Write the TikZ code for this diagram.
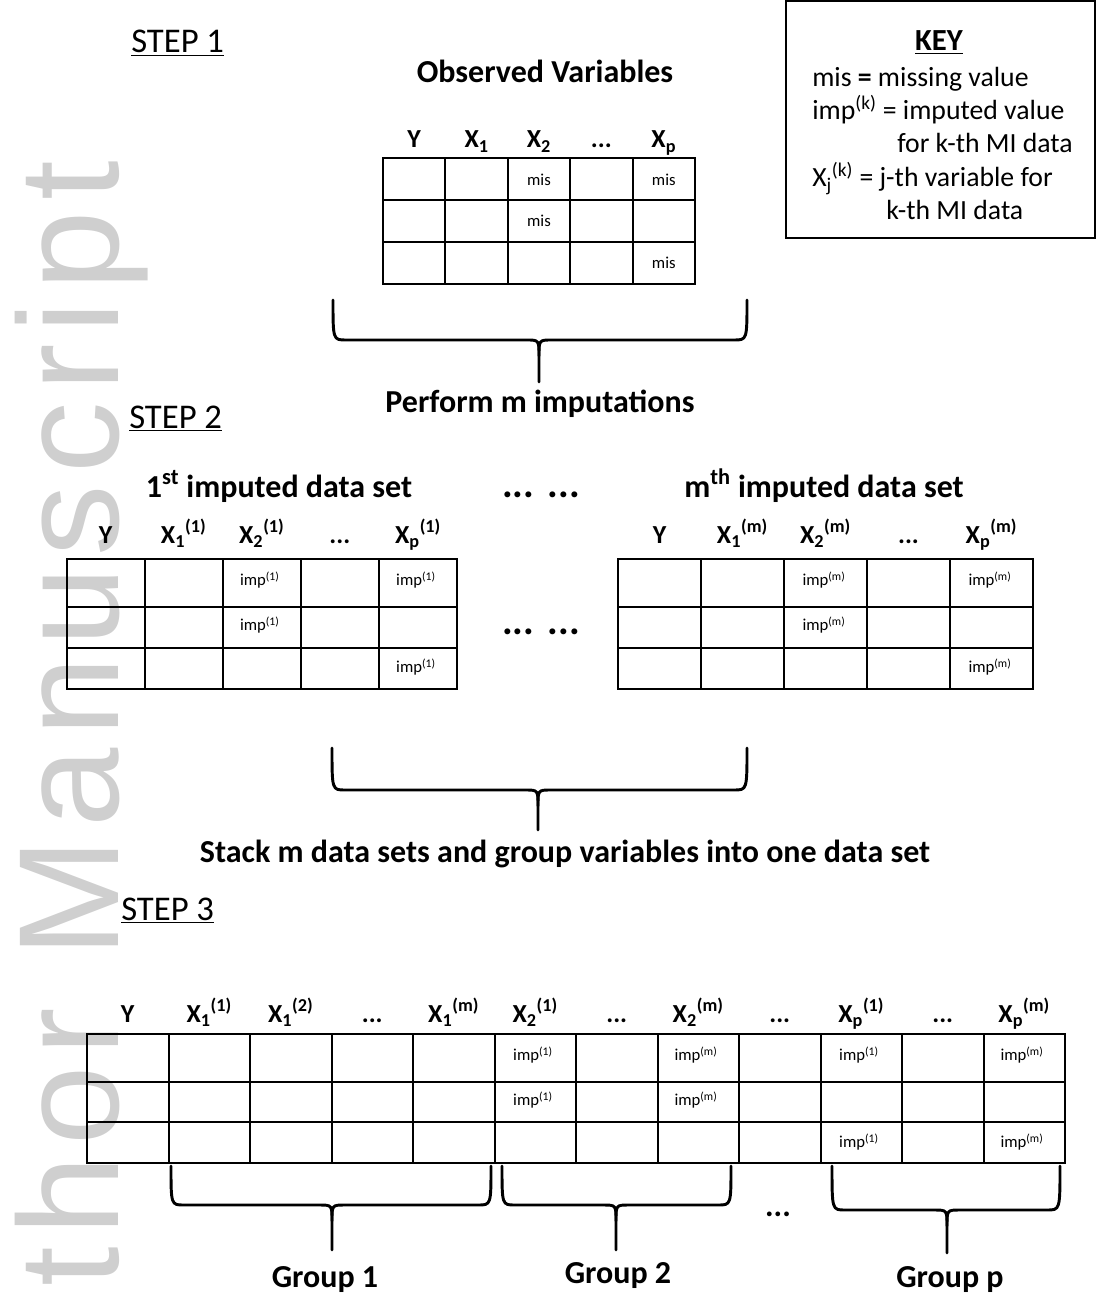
\documentclass[tikz,border=0pt]{standalone}
\usepackage{fontspec}
\setmainfont{Carlito}
\newfontfamily\markfont[LetterSpace=7.7]{Liberation Sans}
\usepackage{tikz}

% X with subscript and superscript, as in the column heads
\newcommand{\varX}[2]{X\textsubscript{#1}\textsuperscript{(#2)}}
% three dots as a column head (keeps foreach from reading a range)
\newcommand{\skipcol}{...}
% curly brace: left x, right x, top y, bar y, tip x, tip y
\newcommand{\ubrace}[6]{%
  \draw[bracestyle] (#1,#3) .. controls (#1,#4) and (#1,#4) .. (#1+13,#4) -- (#5-13,#4)
    .. controls (#5,#4) and (#5,#4) .. (#5,#4+16) -- (#5,#6);
  \draw[bracestyle] (#2,#3) .. controls (#2,#4) and (#2,#4) .. (#2-13,#4) -- (#5+13,#4)
    .. controls (#5,#4) and (#5,#4) .. (#5,#4+16);
}

\begin{document}
\begin{tikzpicture}[x=0.75pt, y=-0.75pt,
    gridline/.style={line width=1.5pt},
    bracestyle/.style={line width=2.2pt, line join=round, line cap=round},
    heading/.style={font=\fontsize{24}{27}\selectfont\bfseries, anchor=base, inner sep=0pt},
    steplabel/.style={font=\fontsize{26}{30}\selectfont, anchor=base west, inner sep=0pt},
    colhead/.style={font=\fontsize{19.5}{22}\selectfont\bfseries, anchor=base, inner sep=0pt},
    celltext/.style={font=\fontsize{12.5}{14}\selectfont, inner sep=0pt},
    keytext/.style={font=\fontsize{20.8}{24}\selectfont, anchor=base west, inner sep=0pt}]

\useasboundingbox (0,0) rectangle (1097,1298);

% watermark
\begin{scope}
  \clip (0,0) rectangle (1097,1298);
  \node[text=black!19, font=\markfont\fontsize{107}{107}\selectfont, rotate=90,
        anchor=base east, inner sep=0pt] (mark) at (118,160) {Author Manuscript};
\end{scope}

% step labels
\node[steplabel] (step1) at (131,53) {\underline{STEP 1}};
\node[steplabel] (step2) at (129,428) {\underline{STEP 2}};
\node[steplabel] (step3) at (121,920) {\underline{STEP 3}};

% key
\draw[line width=1.2pt] (786,1) rectangle (1095,238);
\node[font=\fontsize{23}{26}\selectfont\bfseries, anchor=base, inner sep=0pt] (keyTitle) at (939,51) {\underline{KEY}};
\node[keytext] (key1) at (812,87) {mis \textbf{=} missing value};
\node[keytext] (key2) at (812,120) {imp\textsuperscript{(k)} = imputed value};
\node[keytext] (key3) at (897,153) {for k-th MI data};
\node[keytext] (key4) at (812,187) {X\textsubscript{j}\textsuperscript{(k)} = j-th variable for};
\node[keytext] (key5) at (886,220) {k-th MI data};

% step 1: observed data
\node[heading] (obsTitle) at (545,83) {Observed Variables};
\draw[gridline] (383,158) rectangle (695,284);
\foreach \c in {1,...,4}
  \draw[gridline] (383+62.4*\c,158) -- (383+62.4*\c,284);
\foreach \r in {200,242}
  \draw[gridline] (383,\r) -- (695,\r);
\foreach \lab [count=\c] in {Y, X\textsubscript{1}, X\textsubscript{2}, \skipcol, X\textsubscript{p}}
  \node[colhead] (obs-h\c) at (383+62.4*\c-31.2,148) {\lab};
\foreach \c/\y in {3/180, 3/221, 5/180, 5/263}
  \node[celltext] (obs-\c-\y) at (383+62.4*\c-31.2,\y) {mis};

\ubrace{333}{747}{300}{340}{539}{382}
\node[heading] (perform) at (540,412) {Perform m imputations};

% step 2: first imputed set
\node[heading] (set1Title) at (279,497) {1\textsuperscript{st} imputed data set};
\draw[gridline] (66.5,559) rectangle (457,689);
\foreach \c in {1,...,4}
  \draw[gridline] (66.5+78.1*\c,559) -- (66.5+78.1*\c,689);
\foreach \r in {607,648}
  \draw[gridline] (66.5,\r) -- (457,\r);
\foreach \lab [count=\c] in {Y, \varX{1}{1}, \varX{2}{1}, \skipcol, \varX{p}{1}}
  \node[colhead] (set1-h\c) at (66.5+78.1*\c-39,543) {\lab};
\foreach \c/\y in {3/580, 3/625, 5/580, 5/667}
  \node[celltext] (set1-\c-\y) at (66.5+78.1*\c-41,\y) {imp\textsuperscript{(1)}};

% step 2: m-th imputed set
\node[heading] (setmTitle) at (824,497) {m\textsuperscript{th} imputed data set};
\draw[gridline] (618,559) rectangle (1033,689);
\foreach \c in {1,...,4}
  \draw[gridline] (618+83*\c,559) -- (618+83*\c,689);
\foreach \r in {607,648}
  \draw[gridline] (618,\r) -- (1033,\r);
\foreach \lab [count=\c] in {Y, \varX{1}{m}, \varX{2}{m}, \skipcol, \varX{p}{m}}
  \node[colhead] (setm-h\c) at (618+83*\c-41.5,543) {\lab};
\foreach \c/\y in {3/580, 3/625, 5/580, 5/667}
  \node[celltext] (setm-\c-\y) at (618+83*\c-43,\y) {imp\textsuperscript{(m)}};

\node[heading, font=\fontsize{30}{32}\selectfont\bfseries] (dotsTop) at (541,497) {...\hspace{10pt}...};
\node[heading, font=\fontsize{30}{32}\selectfont\bfseries] (dotsMid) at (541,634) {...\hspace{10pt}...};

\ubrace{332}{747}{748}{790}{538}{830}
\node[heading] (stack) at (565,862) {Stack m data sets and group variables into one data set};

% step 3: stacked data
\draw[gridline] (87,1034) rectangle (1065,1163);
\foreach \c in {1,...,11}
  \draw[gridline] (87+81.5*\c,1034) -- (87+81.5*\c,1163);
\foreach \r in {1082,1122}
  \draw[gridline] (87,\r) -- (1065,\r);
\foreach \lab [count=\c] in {Y, \varX{1}{1}, \varX{1}{2}, \skipcol, \varX{1}{m}, \varX{2}{1}, \skipcol,
    \varX{2}{m}, \skipcol, \varX{p}{1}, \skipcol, \varX{p}{m}}
  \node[colhead] (all-h\c) at (87+81.5*\c-40.75,1022) {\lab};
\foreach \c/\y/\k in {6/1055/1, 6/1100/1, 8/1055/m, 8/1100/m, 10/1055/1, 10/1142/1, 12/1055/m, 12/1142/m}
  \node[celltext] (all-\c-\y) at (87+81.5*\c-43,\y) {imp\textsuperscript{(\k)}};

% groups
\ubrace{171}{491}{1166}{1205}{332}{1250}
\ubrace{502}{731}{1166}{1205}{616}{1250}
\ubrace{832}{1060}{1166}{1210}{947}{1253}
\node[heading] (group1) at (325,1287) {Group 1};
\node[heading] (group2) at (618,1283) {Group 2};
\node[heading] (groupp) at (950,1287) {Group p};
\node[heading] (groupDots) at (778,1216) {...};

\end{tikzpicture}
\end{document}
